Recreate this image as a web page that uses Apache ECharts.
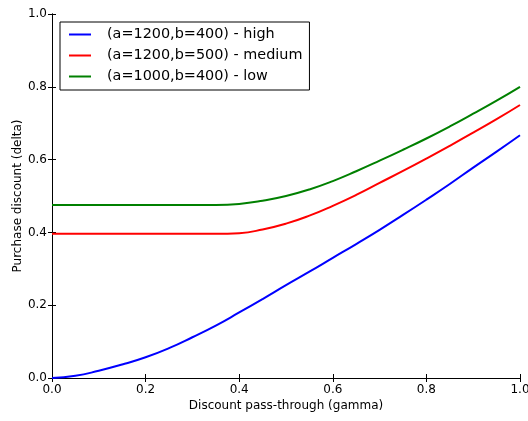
<!DOCTYPE html>
<html>
<head>
<meta charset="utf-8">
<script src="https://cdn.jsdelivr.net/npm/echarts@6/dist/echarts.min.js"></script>
<style>
  html, body { margin: 0; padding: 0; background: #fff; }
  #chart { width: 528px; height: 421px; }
</style>
</head>
<body>
<div id="chart"></div>
<script>
// gamma values (x) and the three delta curves
const gamma = [0, 0.05, 0.1, 0.15, 0.2, 0.25, 0.3, 0.35, 0.4, 0.45, 0.5,
  0.55, 0.6, 0.65, 0.7, 0.75, 0.8, 0.85, 0.9, 0.95, 1.0]
const high = [0, 0.006, 0.020, 0.037, 0.057, 0.082, 0.112, 0.144, 0.180, 0.217, 0.255,
  0.292, 0.330, 0.368, 0.407, 0.448, 0.490, 0.533, 0.578, 0.622, 0.667]
const medium = [0.396, 0.396, 0.396, 0.396, 0.396, 0.396, 0.396, 0.396, 0.398, 0.408, 0.424,
  0.446, 0.473, 0.503, 0.536, 0.569, 0.603, 0.638, 0.674, 0.711, 0.750]
const low = [0.475, 0.475, 0.475, 0.475, 0.475, 0.475, 0.475, 0.475, 0.478, 0.487, 0.500,
  0.518, 0.541, 0.568, 0.597, 0.627, 0.658, 0.691, 0.726, 0.762, 0.800]
const seriesNames = ['(a=1200,b=400) - high', '(a=1200,b=500) - medium', '(a=1000,b=400) - low']

const font = 'DejaVu Sans'

function pairs(ys) {
  return gamma.map((g, i) => [g, ys[i]])
}

function lineSeries(name, ys, color) {
  return {
    name,
    type: 'line',
    data: pairs(ys),
    smooth: 0.5,
    showSymbol: false,
    lineStyle: { color, width: 2 },
    itemStyle: { color },
    animation: false
  }
}

const tickStyle = { show: true, inside: true, length: 4, lineStyle: { color: '#000' } }
const lineStyle = { show: true, lineStyle: { color: '#000', width: 1 } }

const chart = echarts.init(document.getElementById('chart'))
chart.setOption({
  backgroundColor: '#fff',
  grid: { left: 52, right: 8, top: 14, bottom: 43, outerBoundsMode: 'none' },
  legend: {
    left: 60,
    top: 22,
    orient: 'vertical',
    icon: 'rect',
    itemWidth: 22,
    itemHeight: 2,
    itemGap: 4,
    padding: [4, 7, 5, 9],
    borderColor: '#000',
    borderWidth: 1,
    borderRadius: 0,
    backgroundColor: '#fff',
    textStyle: { fontFamily: font, fontSize: 14.4, color: '#000', lineHeight: 17, padding: [0, 0, 0, 11] },
    data: seriesNames
  },
  xAxis: [{
    type: 'value',
    min: 0,
    max: 1,
    interval: 0.2,
    name: 'Discount pass-through (gamma)',
    nameLocation: 'middle',
    nameGap: 22,
    nameMoveOverlap: false,
    nameTextStyle: { fontFamily: font, fontSize: 12, color: '#000' },
    axisLine: lineStyle,
    axisTick: tickStyle,
    splitLine: { show: false },
    axisLabel: { fontFamily: font, fontSize: 12, color: '#000', margin: 6, formatter: v => v.toFixed(1) }
  }, {
    type: 'value',
    position: 'top',
    min: 0,
    max: 1,
    interval: 0.2,
    axisLine: lineStyle,
    axisTick: tickStyle,
    splitLine: { show: false },
    axisLabel: { show: false }
  }],
  yAxis: [{
    type: 'value',
    min: 0,
    max: 1,
    interval: 0.2,
    name: 'Purchase discount (delta)',
    nameLocation: 'middle',
    nameGap: 28,
    nameMoveOverlap: false,
    nameTextStyle: { fontFamily: font, fontSize: 12, color: '#000' },
    axisLine: lineStyle,
    axisTick: tickStyle,
    splitLine: { show: false },
    axisLabel: { fontFamily: font, fontSize: 12, color: '#000', margin: 5, formatter: v => v.toFixed(1) }
  }, {
    type: 'value',
    position: 'right',
    min: 0,
    max: 1,
    interval: 0.2,
    axisLine: lineStyle,
    axisTick: tickStyle,
    splitLine: { show: false },
    axisLabel: { show: false }
  }],
  series: [
    lineSeries(seriesNames[0], high, '#0000ff'),
    lineSeries(seriesNames[1], medium, '#ff0000'),
    lineSeries(seriesNames[2], low, '#008000')
  ]
})
</script>
</body>
</html>
